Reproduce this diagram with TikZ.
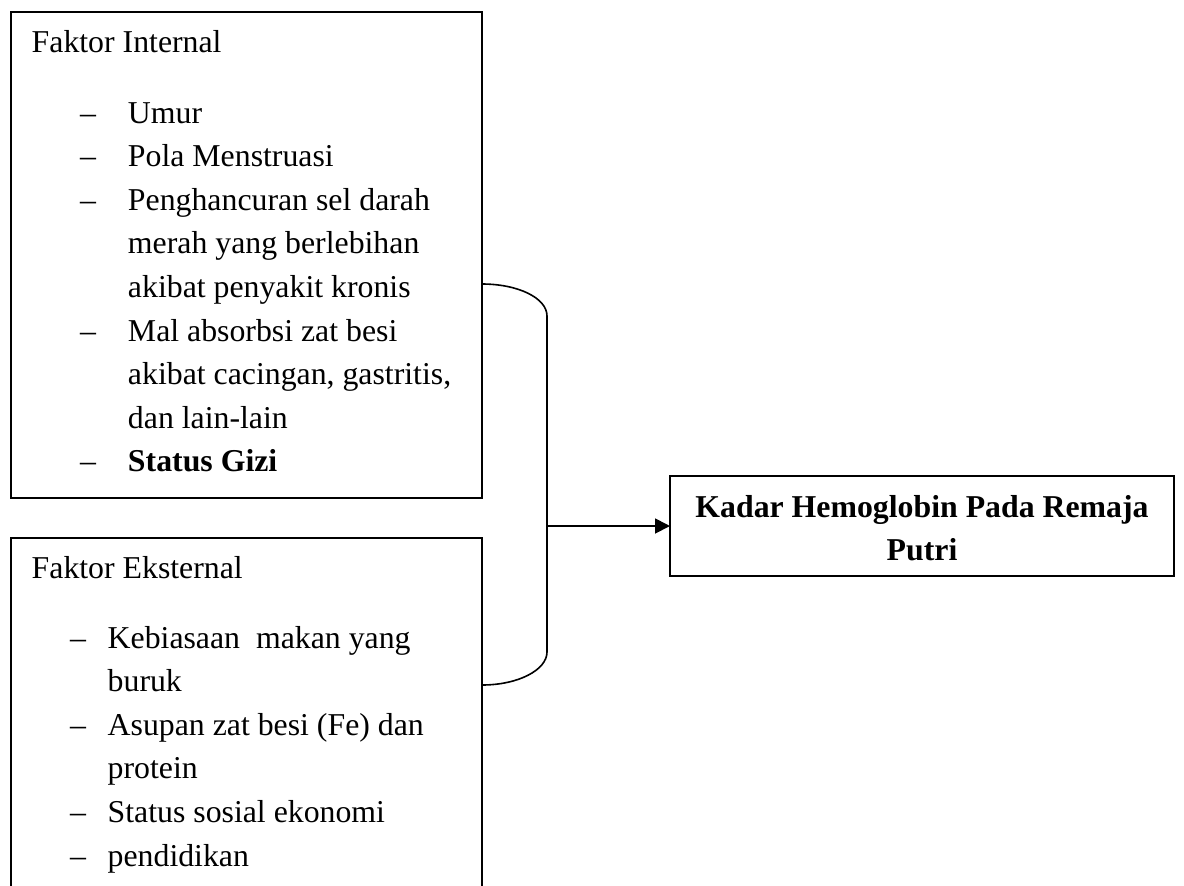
\documentclass[tikz,border=0pt]{standalone}
\usepackage{fontspec}
\setmainfont{Liberation Serif}
\usetikzlibrary{arrows.meta}
\begin{document}
\begin{tikzpicture}[x=0.5pt,y=-0.5pt,
  boxnode/.style={draw, line width=1pt, inner sep=0pt, outer sep=0pt, rectangle},
  txt/.style={inner sep=0pt, outer sep=0pt, font=\fontsize{15.9pt}{21.8pt}\selectfont},
  conn/.style={line width=0.8pt}]
\useasboundingbox (0,0) rectangle (1184,885);
\clip (0,0) rectangle (1184,885);
% boxes
\node[boxnode, minimum width=235.5pt, minimum height=243pt] (internal) at (246.5,254.7) {};
\node[boxnode, minimum width=235.5pt, minimum height=183.5pt] (external) at (246.5,721.5) {};
\node[boxnode, minimum width=252pt, minimum height=50pt] (target) at (922,526) {};
% internal text
\node[txt, anchor=base west] (inttitle) at (31.7,52.7) {Faktor Internal};
\node[txt, anchor=base west] (intlist) at (80,123) {\begin{tabular}[t]{@{}l@{}l@{}}
\makebox[24pt][l]{--} & Umur\\
\makebox[24pt][l]{--} & Pola Menstruasi\\
\makebox[24pt][l]{--} & Penghancuran sel darah\\
 & merah yang berlebihan\\
 & akibat penyakit kronis\\
\makebox[24pt][l]{--} & Mal absorbsi zat besi\\
 & akibat cacingan, gastritis,\\
 & dan lain-lain\\
\makebox[24pt][l]{--} & \textbf{Status Gizi}
\end{tabular}};
% external text
\node[txt, anchor=base west] (exttitle) at (31.7,578) {Faktor Eksternal};
\node[txt, anchor=base west] (extlist) at (70,648) {\begin{tabular}[t]{@{}l@{}l@{}}
\makebox[18.85pt][l]{--} & Kebiasaan\ \ makan yang\\
 & buruk\\
\makebox[18.85pt][l]{--} & Asupan zat besi (Fe) dan\\
 & protein\\
\makebox[18.85pt][l]{--} & Status sosial ekonomi\\
\makebox[18.85pt][l]{--} & pendidikan
\end{tabular}};
% target text
\node[txt, anchor=base, font=\fontsize{15.9pt}{21.8pt}\selectfont\bfseries] (targettext) at (922,517) {\begin{tabular}[t]{@{}c@{}}
Kadar Hemoglobin Pada Remaja\\
Putri
\end{tabular}};
% connectors
\coordinate (ia) at (internal.east |- 0,284);
\coordinate (ea) at (external.east |- 0,685);
\coordinate (jn) at (547,526);
\draw[conn] (ia) .. controls (518,284) and (547,298) .. (547,316)
  -- (547,652) .. controls (547,670) and (518,685) .. (ea);
\draw[line width=0.9pt, -{Triangle[length=7.5pt,width=7.5pt]}] (jn) -- (target.west);
\end{tikzpicture}
\end{document}
